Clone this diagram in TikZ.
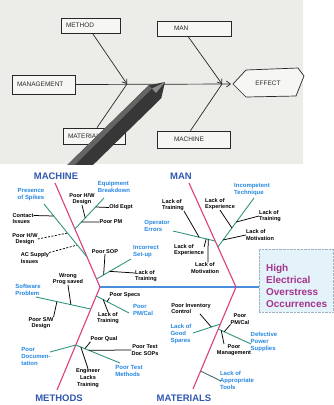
\documentclass[tikz,border=0pt]{standalone}
\usepackage{fontspec}
\setmainfont{Liberation Sans}
\usetikzlibrary{arrows.meta,calc}

\definecolor{paper}{RGB}{236,236,232}
\definecolor{boxwhite}{RGB}{246,246,244}
\definecolor{ink}{RGB}{40,40,40}
\definecolor{pendark}{RGB}{55,55,55}
\definecolor{penmid}{RGB}{100,100,100}
\definecolor{penlight}{RGB}{140,140,140}
\definecolor{bonepink}{RGB}{222,62,128}
\definecolor{spineblue}{RGB}{72,142,218}
\definecolor{twig}{RGB}{52,150,128}
\definecolor{twigdark}{RGB}{70,110,110}
\definecolor{catblue}{RGB}{48,88,175}
\definecolor{causeblue}{RGB}{38,136,226}
\definecolor{effectfill}{RGB}{228,242,250}
\definecolor{effectedge}{RGB}{160,175,190}
\definecolor{effecttext}{RGB}{165,52,140}

\begin{document}
\begin{tikzpicture}[x=1bp,y=-1bp,
  handtext/.style={font=\fontsize{6.5}{7}\selectfont, text=ink},
  sketchbox/.style={handtext, draw=ink, line width=0.75bp, fill=boxwhite,
    inner xsep=5bp, inner ysep=0pt, align=left},
  sketchline/.style={draw=ink, line width=0.7bp},
  sketcharrow/.style={sketchline, -{Straight Barb[length=4bp,width=6bp]}},
  bone/.style={draw=bonepink, line width=1.1bp},
  spine/.style={draw=spineblue, line width=1.3bp},
  twigline/.style={draw=twig, line width=0.9bp},
  stem/.style={draw=black, line width=0.75bp},
  dashstem/.style={stem, dash pattern=on 2bp off 1.5bp},
  category/.style={font=\fontsize{9.5}{10}\selectfont\bfseries, text=catblue, inner sep=0pt},
  cause/.style={font=\fontsize{6}{7}\selectfont\bfseries, text=causeblue, inner sep=0pt, align=left},
  detail/.style={font=\fontsize{5.6}{6.6}\selectfont\bfseries, text=black, inner sep=0pt, align=left},
  detailc/.style={detail, align=center},
]
\useasboundingbox (0,0) rectangle (334,405);
\fill[white] (0,0) rectangle (334,405);

% ================= photographed paper sketch =================
\fill[paper] (0,0) rectangle (303,164);

% effect hexagon
\coordinate (effL) at (233,84);
\draw[sketchline, fill=boxwhite] (effL) -- (246,70) -- (298,68) -- (304,76) -- (296,96) -- (246,97) -- cycle;
\node[handtext] (effect) at (268,83) {EFFECT};

% category boxes
\node[sketchbox, minimum width=59bp, minimum height=15bp, text width=49bp] (method) at (90.5,25.5) {METHOD};
\node[sketchbox, minimum width=74bp, minimum height=15bp, text width=64bp] (man) at (194,28.5) {\hspace{12bp}MAN};
\node[sketchbox, minimum width=63bp, minimum height=19bp, text width=53bp] (mgmt) at (43.5,84.5) {MANAGEMENT};
\node[sketchbox, minimum width=62bp, minimum height=16bp, text width=52bp] (materials) at (94,136) {MATERIALS};
\node[sketchbox, minimum width=73bp, minimum height=17bp, text width=63bp] (machine) at (193.5,139.5) {\hspace{12bp}MACHINE};

% spine and bones
\coordinate (sj1) at (127,84);
\coordinate (sj2) at (222,84);
\draw[sketcharrow, shorten >=2bp] (mgmt.east) -- (effL);
\draw[sketcharrow] ([xshift=2bp]method.south) -- (sj1);
\draw[sketchline] ([xshift=3bp]materials.north) -- (sj1);
\draw[sketcharrow] ([xshift=-6bp]man.south) -- (sj2);
\draw[sketchline] ([xshift=-3bp]machine.north) -- (sj2);

% the pen lying across the sheet
\begin{scope}
  \clip (0,0) rectangle (303,164);
  \fill[pendark] (165,82) -- (161.3,98.2) -- (82.7,175) -- (57,175) -- (148.7,85.4) -- cycle;
  \fill[penmid] (148.7,85.4) -- (57,175) -- (61,178.6) -- (152,88.6) -- cycle;
  \fill[penlight] (165,82) -- (152,88.6) -- (156,93) -- cycle;
\end{scope}

% ================= fishbone diagram =================
\node[category] (catmachine) at (56,176.5) {MACHINE};
\node[category] (catman) at (181,176.5) {MAN};
\node[category] (catmethods) at (59,398.5) {METHODS};
\node[category] (catmaterials) at (184,398.5) {MATERIALS};

% effect box
\node[draw=effectedge, densely dotted, fill=effectfill, minimum width=74bp, minimum height=63bp, inner sep=0pt] (effectbox) at (296,280.5) {};
\node[font=\fontsize{10}{12}\selectfont\bfseries, text=effecttext, align=left, anchor=north west, inner sep=0pt] (effecttitle) at (266,264) {High\\Electrical\\Overstress\\Occurrences};

% spine and main bones
\coordinate (sL) at (100,287);
\coordinate (sR) at (236,287);
\coordinate (bMachine) at (55,183);
\coordinate (bMan) at (189,183);
\coordinate (bMethods) at (57,390);
\coordinate (bMaterials) at (193,389);
\draw[spine] (sL) -- (effectbox.west |- sL);
\draw[bone] (bMachine) -- (sL) -- (bMethods);
\draw[bone] (bMan) -- (sR) -- (bMaterials);

% junctions on the main bones
\coordinate (m1) at ($(bMachine)!0.442!(sL)$);
\coordinate (m2) at ($(bMachine)!0.712!(sL)$);
\coordinate (m3) at ($(bMachine)!0.923!(sL)$);
\coordinate (m4) at ($(sL)!0.214!(bMethods)$);
\coordinate (m5) at ($(sL)!0.087!(bMethods)$);
\coordinate (m6) at ($(sL)!0.563!(bMethods)$);
\coordinate (m7) at ($(bMan)!0.615!(sR)$);
\coordinate (m8) at ($(bMan)!0.558!(sR)$);
\coordinate (m9) at ($(sR)!0.363!(bMaterials)$);
\coordinate (m10) at ($(sR)!0.412!(bMaterials)$);
\coordinate (m11) at ($(sR)!0.824!(bMaterials)$);

% twig ends
\coordinate (e1) at (104,198);
\coordinate (e2) at (44,204);
\coordinate (e3) at (131,259);
\coordinate (e4) at (36,297);
\coordinate (e5) at (129,313);
\coordinate (e6) at (50,352);
\coordinate (e7) at (120,363);
\coordinate (e8) at (254,198);
\coordinate (e9) at (173,231);
\coordinate (e10) at (193,333);
\coordinate (e11) at (251,344);
\coordinate (e12) at (221,381);

% ---- causes (blue) ----
\node[cause] (eqb) at (114,186.5) {Equipment\\Breakdown};
\node[cause] (spikes) at (31,195) {Presence\\of Spikes};
\node[cause] (setup) at (146,252) {Incorrect\\Set-up};
\node[cause] (software) at (28,290) {Software\\Problem};
\node[cause] (pmcal) at (143,310) {Poor\\PM/Cal};
\node[cause] (docu) at (36,356) {Poor\\Documen-\\tation};
\node[cause] (testm) at (129,371) {Poor Test\\Methods};
\node[cause] (technique) at (252,189.5) {Incompetent\\Technique};
\node[cause] (operr) at (157,226) {Operator\\Errors};
\node[cause] (spares) at (181,334) {Lack of\\Good\\Spares};
\node[cause] (power) at (264,342) {Defective\\Power\\Supplies};
\node[cause] (tools) at (237,380) {Lack of\\Appropriate\\Tools};

% ---- details (black) ----
\node[detailc] (hwdesign1) at (82,199) {Poor H/W\\Design};
\node[detail] (oldeqpt) at (121,207.5) {Old Eqpt};
\node[detail] (poorpm) at (111,222) {Poor PM};
\node[detail] (contact) at (23,218.5) {Contact\\Issues};
\node[detailc] (hwdesign2) at (25,239) {Poor H/W\\Design};
\node[detail] (acsupply) at (35,258) {AC Supply\\Issues};
\node[detail] (poorsop) at (105,252) {Poor SOP};
\node[detail] (training1) at (146,276) {Lack of\\Training};
\node[detailc] (wrongprog) at (68,279) {Wrong\\Prog saved};
\node[detailc] (swdesign) at (41,323) {Poor S/W\\Design};
\node[detail] (specs) at (125,295) {Poor Specs};
\node[detailc] (training2) at (108,318) {Lack of\\Training};
\node[detail] (qual) at (104,339) {Poor Qual};
\node[detailc] (testdoc) at (145,350) {Poor Test\\Doc SOPs};
\node[detailc] (engineer) at (88,378) {Engineer\\Lacks\\Training};
\node[detail] (experience1) at (220,204) {Lack of\\Experience};
\node[detail] (training3) at (270,216) {Lack of\\Training};
\node[detail] (motivation1) at (260,235) {Lack of\\Motivation};
\node[detail] (training4) at (173,205) {Lack of\\Training};
\node[detail] (experience2) at (189,250) {Lack of\\Experience};
\node[detailc] (motivation2) at (205,268) {Lack of\\Motivation};
\node[detail] (inventory) at (191,308.5) {Poor Inventory\\Control};
\node[detailc] (pmcal2) at (240,319) {Poor\\PM/Cal};
\node[detailc] (management) at (234,350) {Poor\\Management};

% ---- MACHINE twigs ----
\draw[twigline] (m1) -- (e1);
\draw[stem] ($(m1)!0.355!(e1)$) -- (hwdesign1.south);
\draw[stem] ($(m1)!0.71!(e1)$) -- (oldeqpt.west);
\draw[stem] ($(m1)!0.226!(e1)$) -- (poorpm.west);
\draw[twigline] (m2) -- (e2);
\draw[stem] ($(m2)!0.774!(e2)$) -- ([yshift=3bp]contact.east);
\draw[dashstem] (hwdesign2.east) -- ($(m2)!0.453!(e2)$);
\draw[dashstem] (acsupply.north east) -- ($(m2)!0.226!(e2)$);
\draw[twigline] (m3) -- (e3);
\draw[stem] (poorsop.south) -- ($(m3)!0.206!(e3)$);
\draw[stem] ($(m3)!0.382!(e3)$) -- ([yshift=3bp]training1.west);

% ---- METHODS twigs ----
\draw[twigline] (m4) -- (e4);
\draw[stem] (wrongprog.south) -- ($(m4)!0.364!(e4)$);
\draw[stem] ($(m4)!0.618!(e4)$) -- (swdesign.north east);
\draw[twigline] (m5) -- (e5);
\draw[stem] ($(m5)!0.333!(e5)$) -- (specs.south west);
\draw[stem] ($(m5)!0.212!(e5)$) -- (training2.north);
\draw[twigline] (m6) -- (e6);
\draw[twigline] (m6) -- (e7);
\draw[stem] ($(m6)!0.205!(e7)$) -- (qual.south west);
\draw[stem] ($(m6)!0.295!(e7)$) -- (testdoc.west);
\draw[stem] ($(m6)!0.114!(e7)$) -- (engineer.north);

% ---- MAN twigs ----
\draw[twigline] (m7) -- (e8);
\draw[stem] (experience1.south) -- ($(m7)!0.388!(e8)$);
\draw[stem] ($(m7)!0.51!(e8)$) -- (training3.west);
\draw[stem] ($(m7)!0.143!(e8)$) -- (motivation1.west);
\draw[twigline] (m8) -- (e9);
\draw[stem] (training4.south east) -- ($(m8)!0.381!(e9)$);
\draw[stem] ([yshift=3bp]experience2.east) -- ($(m8)!0.214!(e9)$);
\draw[stem] ($(m8)!0.167!(e9)$) -- ([xshift=3bp]motivation2.north);

% ---- MATERIALS twigs ----
\draw[twigline] (m9) -- (e10);
\draw[stem] ([xshift=9bp]inventory.south) -- ($(m9)!0.333!(e10)$);
\draw[twigline] (m10) -- (e11);
\draw[stem] ($(m10)!0.182!(e11)$) -- (pmcal2.south west);
\draw[stem] ($(m10)!0.09!(e11)$) -- ([xshift=-10bp]management.north);
\draw[twigline, draw=twigdark] (m11) -- (e12);
\end{tikzpicture}
\end{document}
